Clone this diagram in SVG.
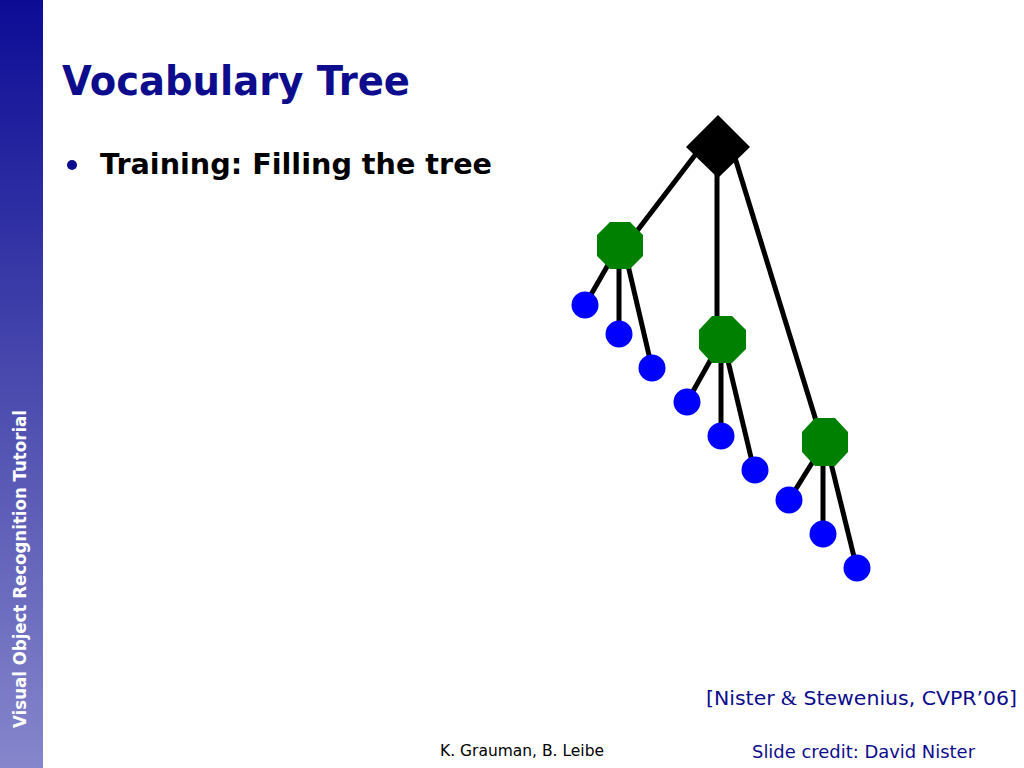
<svg xmlns="http://www.w3.org/2000/svg" width="1024" height="768" viewBox="0 0 1024 768">
<defs>
<linearGradient id="side" x1="0" y1="0" x2="0" y2="1">
<stop offset="0" stop-color="#0c0c96"/>
<stop offset="0.5" stop-color="#4a4aae"/>
<stop offset="1" stop-color="#8686cc"/>
</linearGradient>
<style>
.edge{stroke:#000;stroke-width:5;fill:none}
.leaf{fill:#0000ff}
.mid{fill:#008000}
.root{fill:#000}
.t{font-family:"DejaVu Sans","Liberation Sans",sans-serif;font-weight:bold}
.s{font-family:"DejaVu Sans","Liberation Sans",sans-serif}
</style>
</defs>
<rect x="0" y="0" width="1024" height="768" fill="#fff"/>
<rect x="0" y="0" width="43" height="768" fill="url(#side)"/>
<text class="t" transform="translate(26,728) rotate(-90)" font-size="17" fill="#fff" textLength="318" lengthAdjust="spacingAndGlyphs">Visual Object Recognition Tutorial</text>
<text class="t" x="62" y="95" font-size="40" fill="#0c0c8c" textLength="348" lengthAdjust="spacingAndGlyphs">Vocabulary Tree</text>
<circle cx="72" cy="165" r="5" fill="#0c0c8c"/>
<text class="t" x="100" y="174" font-size="29" fill="#000" textLength="392" lengthAdjust="spacingAndGlyphs">Training: Filling the tree</text>
<g id="connectors">
<line class="edge" x1="702" y1="146" x2="624" y2="248"/>
<line class="edge" x1="717" y1="150" x2="717" y2="335"/>
<line class="edge" x1="732" y1="148" x2="822" y2="440"/>
<line class="edge" x1="612" y1="258" x2="585" y2="305"/>
<line class="edge" x1="619" y1="245" x2="619" y2="334"/>
<line class="edge" x1="624" y1="248" x2="652" y2="368"/>
<line class="edge" x1="715" y1="352" x2="687" y2="402"/>
<line class="edge" x1="721" y1="340" x2="721" y2="436"/>
<line class="edge" x1="723" y1="340" x2="754" y2="470"/>
<line class="edge" x1="817" y1="455" x2="789" y2="500"/>
<line class="edge" x1="823" y1="442" x2="823" y2="535"/>
<line class="edge" x1="826" y1="443" x2="857" y2="569"/>
</g>
<g id="root"><polygon class="root" points="718,115 750,147 718,178 686,147"/></g>
<g id="n1"><polygon class="mid" points="610,222 630,222 643,235 643,256 630,269 610,269 597,256 597,235"/></g>
<g id="n2"><polygon class="mid" points="712,316 732,316 746,330 746,349 732,363 712,363 699,349 699,330"/></g>
<g id="n3"><polygon class="mid" points="815,418 835,418 848,432 848,452 835,466 815,466 802,452 802,432"/></g>
<g id="l1"><circle class="leaf" cx="585" cy="305" r="13.5"/></g>
<g id="l2"><circle class="leaf" cx="619" cy="334" r="13.5"/></g>
<g id="l3"><circle class="leaf" cx="652" cy="368" r="13.5"/></g>
<g id="l4"><circle class="leaf" cx="687" cy="402" r="13.5"/></g>
<g id="l5"><circle class="leaf" cx="721" cy="436" r="13.5"/></g>
<g id="l6"><circle class="leaf" cx="755" cy="470" r="13.5"/></g>
<g id="l7"><circle class="leaf" cx="789" cy="500" r="13.5"/></g>
<g id="l8"><circle class="leaf" cx="823" cy="534" r="13.5"/></g>
<g id="l9"><circle class="leaf" cx="857" cy="568" r="13.5"/></g>
<text class="s" x="706" y="705" font-size="20" fill="#0c0c8c" textLength="311" lengthAdjust="spacingAndGlyphs">[Nister <tspan font-family="Liberation Serif,serif">&amp;</tspan> Stewenius, CVPR’06]</text>
<text class="s" x="440" y="756" font-size="15" fill="#000" textLength="164" lengthAdjust="spacingAndGlyphs">K. Grauman, B. Leibe</text>
<text class="s" x="752" y="758" font-size="18" fill="#0c0c8c" textLength="223" lengthAdjust="spacingAndGlyphs">Slide credit: David Nister</text>
</svg>
